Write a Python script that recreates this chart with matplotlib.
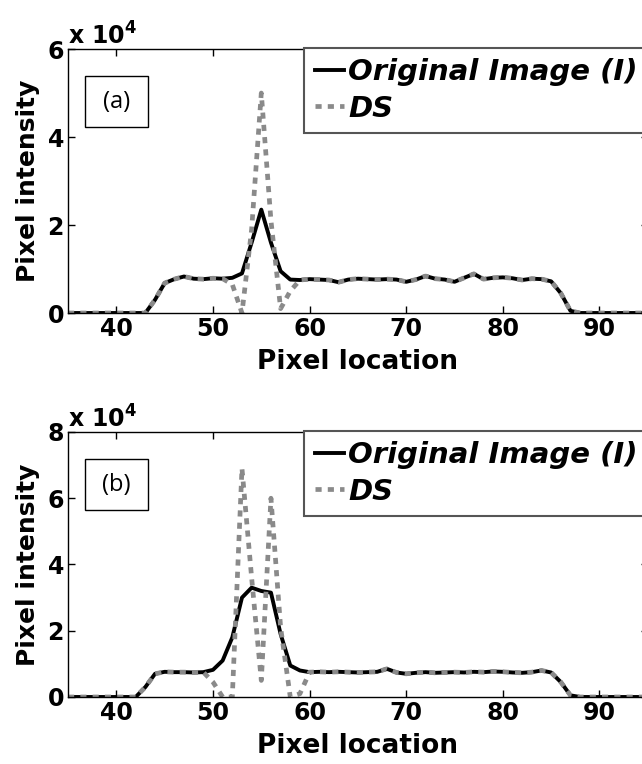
import matplotlib
matplotlib.use("Agg")
import matplotlib.pyplot as plt
from matplotlib.patches import Rectangle
from matplotlib.ticker import FuncFormatter
import numpy as np

plt.rcParams.update({
    "font.family": "DejaVu Sans",
    "font.weight": "bold",
    "mathtext.default": "bf",
    "axes.linewidth": 1.0,
})

# pixel locations 35..95
pixel_loc = np.arange(35, 96)

# panel (a)
orig_a = [0, 0, 0, 0, 0, 0, 0, 0, 0,                       # 35-43
          3000, 6800, 7700, 8300, 7800, 7700, 7900, 7800,   # 44-51
          8000, 9000, 16000, 23500, 16000, 9500, 7600, 7500,  # 52-59
          7700, 7600, 7500, 7000, 7600, 7800, 7700, 7600,   # 60-67
          7700, 7600, 7100, 7600, 8400, 7800, 7600, 7100,   # 68-75
          8000, 8900, 7700, 8000, 8100, 7900, 7500, 7800,   # 76-83
          7700, 7200, 4500, 500, 0, 0, 0, 0, 0, 0, 0, 0]    # 84-95
ds_a = [0, 0, 0, 0, 0, 0, 0, 0, 0,
        3000, 6800, 7700, 8300, 7800, 7700, 7900, 7800,
        6500, 0, 19000, 50000, 21000, 1000, 5000, 7500,
        7700, 7600, 7500, 7000, 7600, 7800, 7700, 7600,
        7700, 7600, 7100, 7600, 8400, 7800, 7600, 7100,
        8000, 8900, 7700, 8000, 8100, 7900, 7500, 7800,
        7700, 7200, 4500, 500, 0, 0, 0, 0, 0, 0, 0, 0]

# panel (b)
orig_b = [0, 0, 0, 0, 0, 0, 0, 0,                          # 35-42
          3000, 7000, 7600, 7500, 7500, 7400, 7500,         # 43-49
          8200, 11000, 18000, 30000, 33000, 32000, 31500,   # 50-56
          19000, 9500, 8000, 7500, 7600, 7500, 7600, 7500,  # 57-64
          7400, 7500, 7600, 8500, 7400, 7000, 7300, 7500,   # 65-72
          7300, 7400, 7500, 7400, 7600, 7500, 7700, 7600,   # 73-80
          7400, 7300, 7500, 8000, 7400, 4500, 500,          # 81-87
          0, 0, 0, 0, 0, 0, 0, 0]                           # 88-95
ds_b = [0, 0, 0, 0, 0, 0, 0, 0,
        3000, 7000, 7600, 7500, 7500, 7400, 7500,
        4500, 0, 0, 69000, 36000, 5000, 60000,
        21000, 0, 1000, 7500, 7600, 7500, 7600, 7500,
        7400, 7500, 7600, 8500, 7400, 7000, 7300, 7500,
        7300, 7400, 7500, 7400, 7600, 7500, 7700, 7600,
        7400, 7300, 7500, 8000, 7400, 4500, 500,
        0, 0, 0, 0, 0, 0, 0, 0]

panels = [
    ("(a)", orig_a, ds_a, 6e4, [0, 2e4, 4e4, 6e4]),
    ("(b)", orig_b, ds_b, 8e4, [0, 2e4, 4e4, 6e4, 8e4]),
]
axes_pos = [
    [0.106, 0.5903, 0.903, 0.3455],
    [0.106, 0.0877, 0.903, 0.3469],
]

fig = plt.figure(figsize=(6.42, 7.64), dpi=100)

for (tag, orig, ds, ymax, yticks), pos in zip(panels, axes_pos):
    ax = fig.add_axes(pos)
    ax.plot(pixel_loc, orig, color="black", lw=2.8, label="Original Image (I)")
    ax.plot(pixel_loc, ds, color="#8a8a8a", lw=3.4, dashes=(1.3, 1.3),
            dash_capstyle="butt", label="DS")

    ax.set_xlim(35, 95)
    ax.set_ylim(0, ymax)
    ax.set_xticks([40, 50, 60, 70, 80, 90])
    ax.set_yticks(yticks)
    ax.yaxis.set_major_formatter(FuncFormatter(lambda v, p: f"{v / 1e4:g}"))
    ax.tick_params(direction="in", top=True, right=True, length=5, width=1,
                   labelsize=17, pad=3)

    ax.set_xlabel("Pixel location", fontsize=19, fontweight="bold")
    ax.set_ylabel("Pixel intensity", fontsize=18, fontweight="bold")
    ax.xaxis.set_label_coords(0.5, -0.135)
    ax.yaxis.set_label_coords(-0.048, 0.5)

    # scale factor written like the MATLAB exponent label
    ax.text(0.0, 1.015, r"x 10$^{4}$", transform=ax.transAxes,
            ha="left", va="baseline", fontsize=17, fontweight="bold")

    # panel tag in a box
    ax.add_patch(Rectangle((0.029, 0.704), 0.109, 0.193, transform=ax.transAxes,
                           fill=False, edgecolor="black", lw=1.0))
    ax.text(0.0835, 0.80, tag, transform=ax.transAxes, ha="center",
            va="center", fontsize=17, fontweight="normal", family="Open Sans")

    leg = ax.legend(loc="upper right", bbox_to_anchor=(1.0, 1.005),
                    borderaxespad=0, fancybox=False, framealpha=1,
                    edgecolor="#555555", handlelength=1.0, handletextpad=0.15,
                    labelspacing=0.3, borderpad=0.35,
                    prop=dict(size=21, weight="bold", style="italic"))
    leg.get_frame().set_linewidth(1.5)

fig.savefig("out.png", dpi=100)
